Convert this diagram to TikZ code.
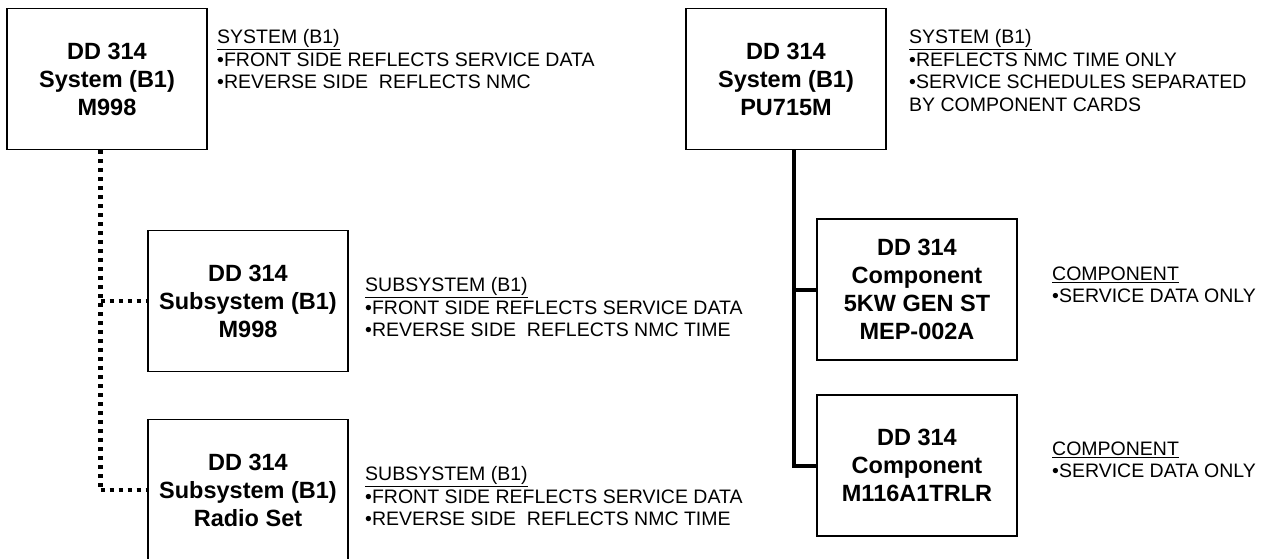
\documentclass[tikz,border=0pt]{standalone}
\usepackage{fontspec}
\setmainfont{Liberation Sans}
\begin{document}
\begin{tikzpicture}[x=1pt,y=-1pt,
  card/.style={draw, line width=1.6pt, minimum width=200pt, minimum height=141pt, inner sep=0pt, align=center,
    font=\bfseries\fontsize{23.5}{28}\selectfont},
  note/.style={anchor=north west, align=left, inner sep=0pt, font=\fontsize{19.5}{22.5}\selectfont},
  solidlink/.style={line width=4pt},
  dotlink/.style={line width=5pt, dash pattern=on 4pt off 5pt},
  dotbranch/.style={line width=4pt, dash pattern=on 4pt off 5pt}]
\useasboundingbox (0,0) rectangle (1267,559);
\clip (0,0) rectangle (1267,559);
\fill[white] (0,0) rectangle (1267,559);

\node[card] (A) at (107,79) {DD 314\\System (B1)\\M998};
\node[card] (B) at (786,79) {DD 314\\System (B1)\\PU715M};
\node[card] (C) at (248,301) {DD 314\\Subsystem (B1)\\M998};
\node[card] (D) at (248,490) {DD 314\\Subsystem (B1)\\Radio Set};
\node[card] (E) at (917,289.5) {DD 314\\Component\\5KW GEN ST\\MEP-002A};
\node[card] (F) at (917,465.5) {DD 314\\Component\\M116A1TRLR};

\node[note] (nA) at (217,29.5) {\underline{SYSTEM (B1)}\\•FRONT SIDE REFLECTS SERVICE DATA\\•REVERSE SIDE\ \ REFLECTS NMC};
\node[note] (nB) at (909,29.5) {\underline{SYSTEM (B1)}\\•REFLECTS NMC TIME ONLY\\•SERVICE SCHEDULES SEPARATED\\BY COMPONENT CARDS};
\node[note] (nC) at (365,277.5) {\underline{SUBSYSTEM (B1)}\\•FRONT SIDE REFLECTS SERVICE DATA\\•REVERSE SIDE\ \ REFLECTS NMC TIME};
\node[note] (nD) at (365,466.5) {\underline{SUBSYSTEM (B1)}\\•FRONT SIDE REFLECTS SERVICE DATA\\•REVERSE SIDE\ \ REFLECTS NMC TIME};
\node[note] (nE) at (1052,266.5) {\underline{COMPONENT}\\•SERVICE DATA ONLY};
\node[note] (nF) at (1052,441.5) {\underline{COMPONENT}\\•SERVICE DATA ONLY};

\coordinate (dv) at ([xshift=-6.5pt]A.south);
\coordinate (rv) at ([xshift=8pt]B.south);
\draw[dotlink] (dv) -- (dv |- D.west);
\draw[dotbranch] (dv |- C.west) -- (C.west);
\draw[dotbranch] (dv |- D.west) -- (D.west);
\draw[solidlink] (rv) |- (F.west);
\draw[solidlink] (rv |- E.west) -- (E.west);
\end{tikzpicture}
\end{document}
